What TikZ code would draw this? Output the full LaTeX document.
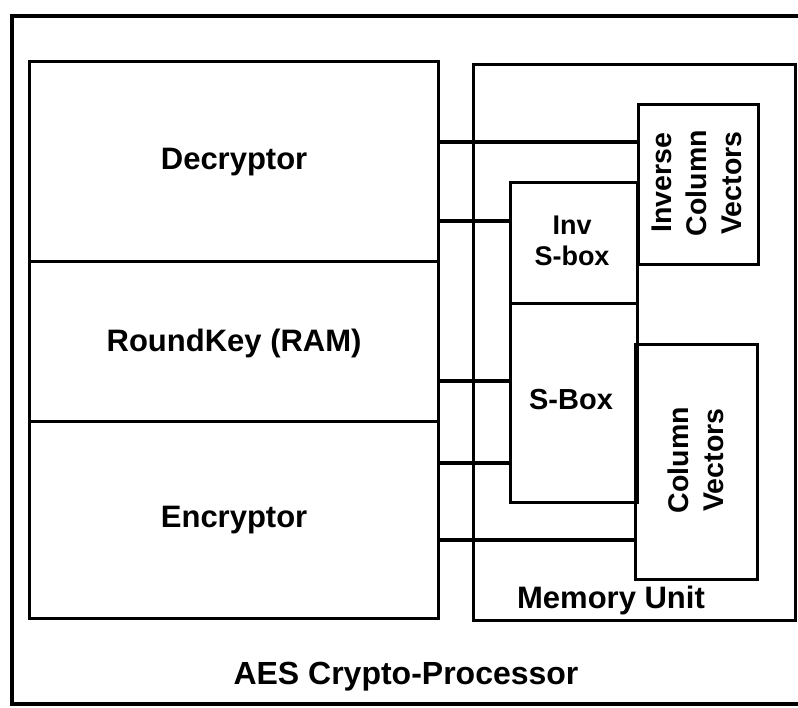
\documentclass[tikz,border=0pt]{standalone}
\usepackage{fontspec}
\setmainfont{Liberation Sans}
\begin{document}
\begin{tikzpicture}[x=1pt,y=-1pt,
  wire/.style={line width=3.2pt,line cap=rect},
  blockbox/.style={draw,line width=3.2pt,inner sep=0pt,anchor=north west},
  label/.style={font=\bfseries\fontsize{31}{36}\selectfont},
  small/.style={font=\bfseries\fontsize{27}{31}\selectfont,align=center},
  vert/.style={font=\bfseries\fontsize{28.5}{35}\selectfont,align=center,rotate=90}]
\useasboundingbox (0,0) rectangle (798,707);
\clip (0,0) rectangle (798,707);

% processor frame (its right side runs past the sheet)
\draw[line width=3.6pt] (820,16) -- (12,16) -- (12,704) -- (820,704);

% left column: decryptor / round key / encryptor
\node[blockbox,minimum width=409pt,minimum height=200pt] (dec) at (28,60) {};
\node[blockbox,minimum width=409pt,minimum height=160pt] (rk)  at (28,260) {};
\node[blockbox,minimum width=409pt,minimum height=197pt] (enc) at (28,420) {};
\node[label] at (dec.center) {Decryptor};
\node[label] at ([yshift=-2pt]rk.center) {RoundKey (RAM)};
\node[label] at (enc.center) {Encryptor};

% memory unit and its blocks
\node[blockbox,minimum width=322pt,minimum height=556pt] (mem) at (472,63) {};
\node[label] (memlbl) at (611,600) {Memory Unit};
\node[blockbox,minimum width=120pt,minimum height=160pt] (invcol) at (637,103) {};
\node[blockbox,minimum width=127pt,minimum height=121pt] (invsbox) at (509,181) {};
\node[blockbox,minimum width=127pt,minimum height=199pt] (sbox) at (509,302) {};
\node[blockbox,minimum width=122pt,minimum height=235pt] (colvec) at (634,343) {};

\node[vert] at (697,183) {Inverse\\Column\\Vectors};
\node[small] at (572,241) {Inv\\S-box};
\node[font=\bfseries\fontsize{29}{33}\selectfont] at (571,400) {S-Box};
\node[vert] at (696,460) {Column\\Vectors};

% bus lines between the column and the memory blocks
\coordinate (r1) at (0,142);
\coordinate (r2) at (0,221);
\coordinate (r3) at (0,381);
\coordinate (r4) at (0,463);
\coordinate (r5) at (0,540);
\draw[wire] (dec.east |- r1) -- (invcol.west |- r1);
\draw[wire] (dec.east |- r2) -- (invsbox.west |- r2);
\draw[wire] (rk.east |- r3) -- (sbox.west |- r3);
\draw[wire] (enc.east |- r4) -- (sbox.west |- r4);
\draw[wire] (enc.east |- r5) -- (colvec.west |- r5);

\node[font=\bfseries\fontsize{32}{36}\selectfont] (aes) at (406,677) {AES Crypto-Processor};
\end{tikzpicture}
\end{document}
